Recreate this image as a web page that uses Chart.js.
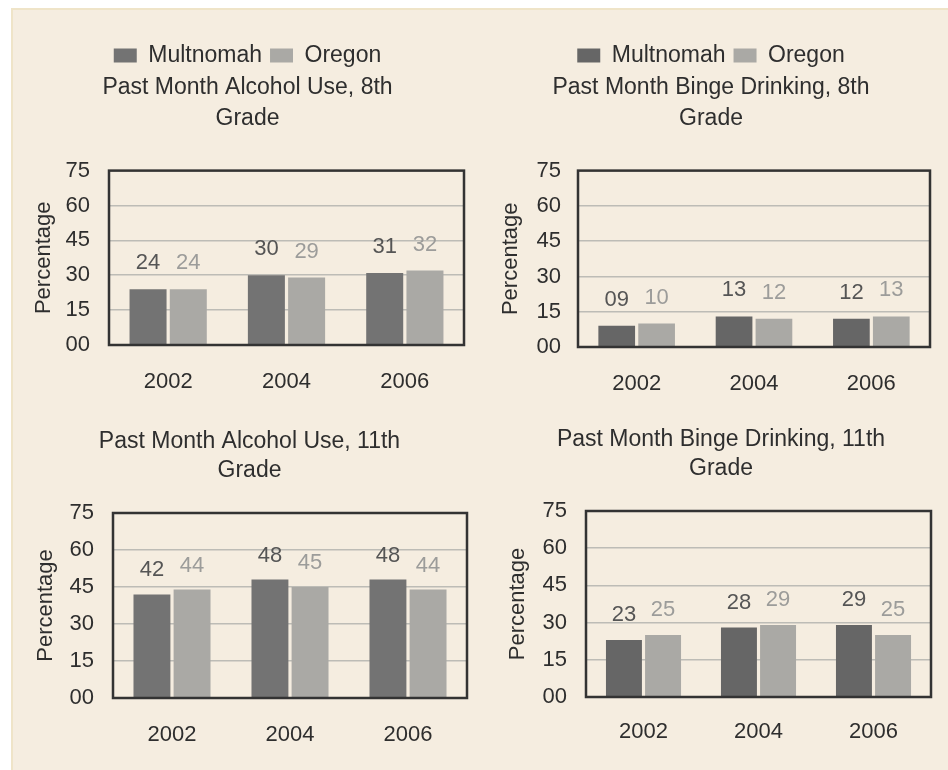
<!DOCTYPE html>
<html>
<head>
<meta charset="utf-8">
<script src="https://cdn.jsdelivr.net/npm/chart.js@4.4.1/dist/chart.umd.min.js"></script>
<style>
  html, body { margin: 0; padding: 0; background: #ffffff; }
  body { width: 948px; height: 770px; position: relative; overflow: hidden; }
  #bg { position: absolute; left: 11px; top: 8px; width: 937px; height: 762px;
        background: #f5ede0; border-left: 2px solid #efe4c8; border-top: 2px solid #efe4c8; box-sizing: border-box; }
  canvas { position: absolute; }
</style>
</head>
<body>
<div id="bg"></div>
<canvas id="c1" width="474" height="400" style="left:0;top:0;width:474px;height:400px"></canvas>
<canvas id="c2" width="474" height="400" style="left:474px;top:0;width:474px;height:400px"></canvas>
<canvas id="c3" width="474" height="370" style="left:0;top:400px;width:474px;height:370px"></canvas>
<canvas id="c4" width="474" height="370" style="left:474px;top:400px;width:474px;height:370px"></canvas>
<script>
// ---- data ----
const categories = ['2002', '2004', '2006'];
const seriesNames = ['Multnomah', 'Oregon'];
const yTicks = [0, 15, 30, 45, 60, 75];

const alcohol8Multnomah = [24, 30, 31];
const alcohol8Oregon    = [24, 29, 32];
const binge8Multnomah   = [9, 13, 12];
const binge8Oregon      = [10, 12, 13];
const alcohol11Multnomah = [42, 48, 48];
const alcohol11Oregon    = [44, 45, 44];
const binge11Multnomah   = [23, 28, 29];
const binge11Oregon      = [25, 29, 25];

const titles = [
  ['Past Month Alcohol Use, 8th', 'Grade'],
  ['Past Month Binge Drinking, 8th', 'Grade'],
  ['Past Month Alcohol Use, 11th', 'Grade'],
  ['Past Month Binge Drinking, 11th', 'Grade']
];

const FONT = "'Liberation Sans', Arial, sans-serif";
const pad2 = v => String(v).padStart(2, '0');

const framePlugin = {
  id: 'frame',
  afterDatasetsDraw(chart) {
    const a = chart.chartArea, ctx = chart.ctx;
    ctx.save();
    ctx.strokeStyle = '#333333';
    ctx.lineWidth = 2.5;
    ctx.strokeRect(a.left, a.top, a.right - a.left, a.bottom - a.top);
    ctx.restore();
  }
};

const valueLabelPlugin = {
  id: 'valueLabels',
  afterDatasetsDraw(chart, args, opts) {
    const ctx = chart.ctx;
    ctx.save();
    ctx.font = '22px ' + FONT;
    ctx.textAlign = 'center';
    ctx.textBaseline = 'middle';
    chart.data.datasets.forEach((ds, i) => {
      const meta = chart.getDatasetMeta(i);
      ctx.fillStyle = ds.labelColor;
      meta.data.forEach((bar, j) => {
        ctx.fillText(pad2(ds.data[j]), bar.x, bar.y - opts.offset);
      });
    });
    ctx.restore();
  }
};

function makeChart(id, mult, ore, title, cfg) {
  return new Chart(document.getElementById(id), {
    type: 'bar',
    data: {
      labels: categories,
      datasets: [
        { label: seriesNames[0], data: mult, backgroundColor: cfg.multColor, borderWidth: 0,
          labelColor: '#555555', categoryPercentage: 0.68, barPercentage: 0.92 },
        { label: seriesNames[1], data: ore, backgroundColor: '#aaa9a5', borderWidth: 0,
          labelColor: '#9c9c9a', categoryPercentage: 0.68, barPercentage: 0.92 }
      ]
    },
    options: {
      responsive: false,
      animation: false,
      devicePixelRatio: 1,
      layout: { padding: cfg.padding },
      plugins: {
        legend: {
          display: cfg.legend,
          position: 'top',
          weight: 3000,
          labels: { boxWidth: 23, boxHeight: 14, padding: 8, color: '#2e2e2e',
                    font: { family: FONT, size: 23 } }
        },
        title: {
          display: true,
          text: title,
          color: '#2e2e2e',
          font: { family: FONT, size: 23, weight: 'normal', lineHeight: cfg.titleLH },
          padding: cfg.titlePad
        },
        tooltip: { enabled: false },
        valueLabels: { offset: cfg.labelOffset }
      },
      scales: {
        x: {
          grid: { display: false, drawTicks: false },
          border: { display: false },
          ticks: { color: '#2e2e2e', padding: cfg.xTickPad, font: { family: FONT, size: 22 } },
          afterFit: s => { s.height = cfg.xH; }
        },
        y: {
          min: 0, max: 75,
          afterBuildTicks: s => { s.ticks = yTicks.map(v => ({ value: v })); },
          grid: { color: '#bdbcb6', lineWidth: 1.5, drawTicks: false },
          border: { display: false },
          ticks: { color: '#2e2e2e', padding: cfg.yTickPad, font: { family: FONT, size: 22 },
                   callback: v => pad2(v) },
          title: { display: true, text: 'Percentage', color: '#2e2e2e',
                   font: { family: FONT, size: 22 }, padding: { top: cfg.yTitlePad, bottom: 0 } },
          afterFit: s => { s.width = cfg.yW; }
        }
      }
    },
    plugins: [framePlugin, valueLabelPlugin]
  });
}

makeChart('c1', alcohol8Multnomah, alcohol8Oregon, titles[0], {
  multColor: '#737373', legend: true,
  padding: { left: 31, right: 10, top: 36, bottom: 0 },
  titleLH: 1.35, titlePad: { top: -4.5, bottom: 36 },
  yW: 78, yTitlePad: 0, yTickPad: 19, xH: 55, xTickPad: 24, labelOffset: 26
});
makeChart('c2', binge8Multnomah, binge8Oregon, titles[1], {
  multColor: '#666666', legend: true,
  padding: { left: 18, right: 18, top: 36, bottom: 0 },
  titleLH: 1.35, titlePad: { top: -4.5, bottom: 36 },
  yW: 86, yTitlePad: 6, yTickPad: 17, xH: 53, xTickPad: 24, labelOffset: 26
});
makeChart('c3', alcohol11Multnomah, alcohol11Oregon, titles[2], {
  multColor: '#737373', legend: false,
  padding: { left: 32, right: 7, top: 20, bottom: 0 },
  titleLH: 1.25, titlePad: { top: 7.6, bottom: 27.9 },
  yW: 81, yTitlePad: 1, yTickPad: 19, xH: 72, xTickPad: 24, labelOffset: 24
});
makeChart('c4', binge11Multnomah, binge11Oregon, titles[3], {
  multColor: '#666666', legend: false,
  padding: { left: 37, right: 17, top: 20, bottom: 0 },
  titleLH: 1.25, titlePad: { top: 5.6, bottom: 27.9 },
  yW: 75, yTitlePad: -6, yTickPad: 19, xH: 73, xTickPad: 22, labelOffset: 25
});
</script>
</body>
</html>
